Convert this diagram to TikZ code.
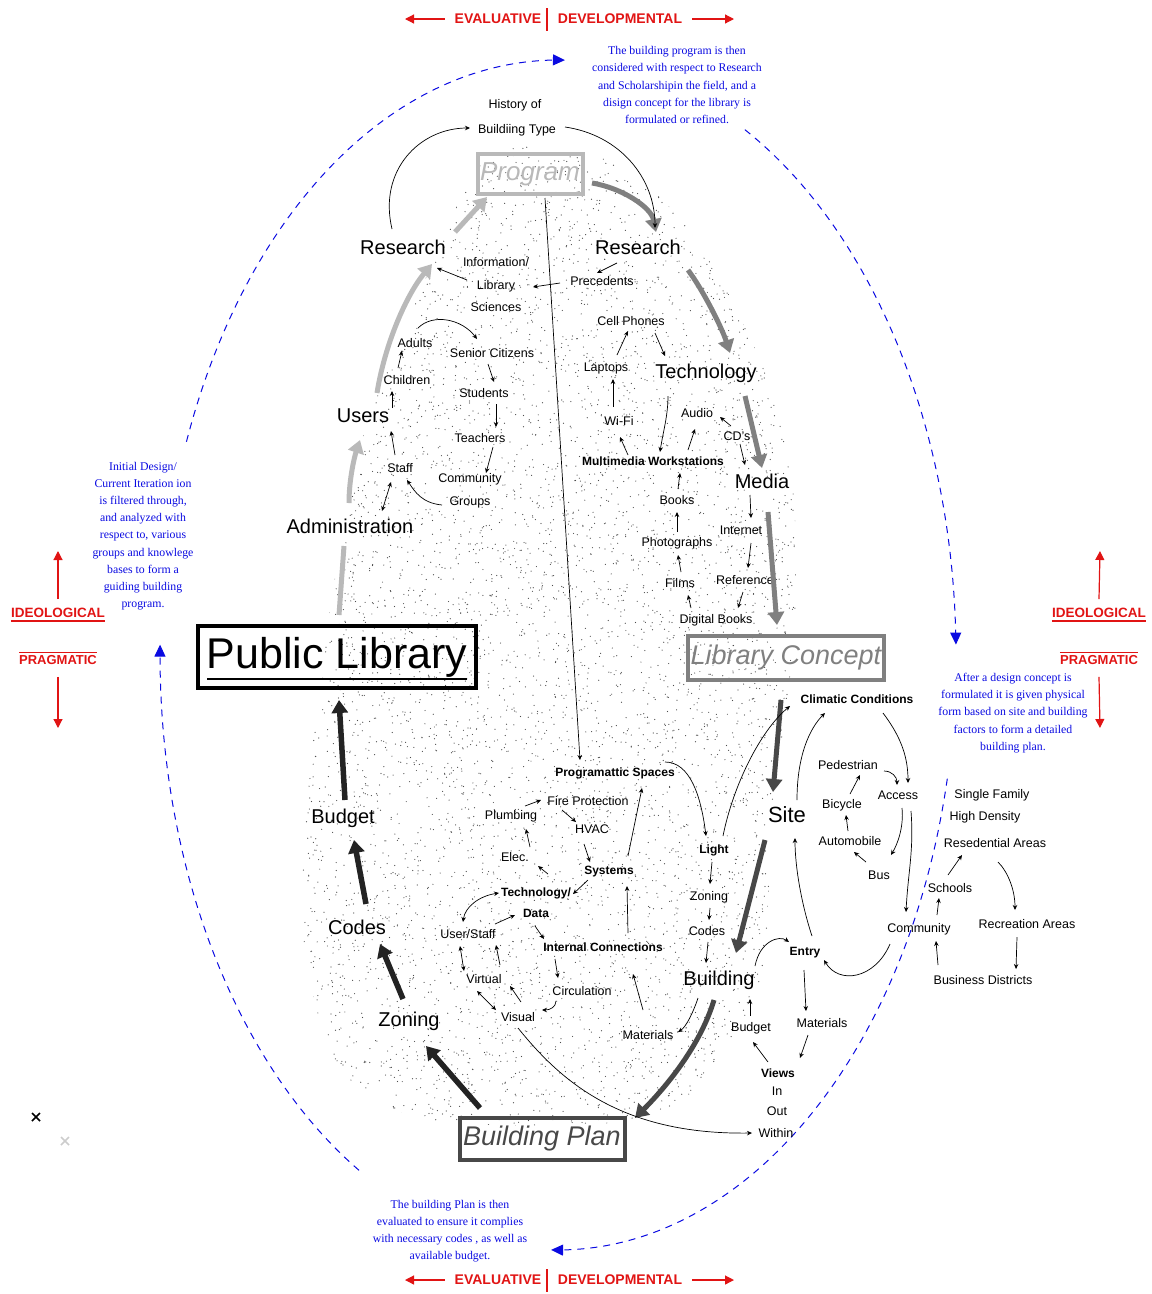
\documentclass[tikz,border=0pt]{standalone}
\usepackage{fontspec}
\setmainfont{Liberation Sans}
\newfontfamily\bluefont{Liberation Serif}
\usetikzlibrary{arrows.meta,calc}
\definecolor{bluetx}{RGB}{10,10,225}
\definecolor{redtx}{RGB}{225,20,20}
\definecolor{gA}{RGB}{185,185,185}
\definecolor{gB}{RGB}{128,128,128}
\definecolor{gC}{RGB}{72,72,72}
\definecolor{gD}{RGB}{35,35,35}
\begin{document}
\begin{tikzpicture}[x=1pt,y=-1pt,
 lab/.style={font=\fontsize{12.5}{15}\selectfont, inner sep=1pt, align=center},
 labb/.style={font=\bfseries\fontsize{12}{15}\selectfont, inner sep=1pt, align=center},
 bigl/.style={font=\fontsize{20}{24}\selectfont, inner sep=1pt},
 redl/.style={font=\bfseries\fontsize{14}{16}\selectfont, text=redtx, inner sep=0pt},
 bluet/.style={font=\bluefont\fontsize{11.8}{17.2}\selectfont, text=bluetx, align=center, inner sep=0pt},
 ar/.style={-{Stealth[length=5pt,width=4.5pt]}, line width=0.7pt},
 dar/.style={{Stealth[length=5pt,width=4.5pt]}-{Stealth[length=5pt,width=4.5pt]}, line width=0.7pt},
 redar/.style={draw=redtx, line width=1.2pt, -{Triangle[length=9pt,width=9pt]}},
 redline/.style={draw=redtx, line width=1.2pt},
 bdash/.style={draw=bluetx, line width=1pt, dash pattern=on 7pt off 6pt, -{Triangle[length=12pt,width=11pt]}},
 bA/.style={draw=gA, line width=5pt, -{Triangle[length=13pt,width=16pt]}},
 bB/.style={draw=gB, line width=5pt, -{Triangle[length=13pt,width=16pt]}},
 bC/.style={draw=gC, line width=5pt, -{Triangle[length=13pt,width=16pt]}},
 bD/.style={draw=gD, line width=5.5pt, -{Triangle[length=13pt,width=16pt]}},
 conbox/.style={line width=4pt, inner sep=0pt, font=\itshape\fontsize{27}{30}\selectfont}
]
\useasboundingbox (0,0) rectangle (1152,1294);

% ---------- stippled region ----------
\begin{scope}
\clip plot[smooth cycle] coordinates {(530,146) (625,168) (700,245) (762,365) (792,480) (795,640) (772,815) (762,975) (705,1075) (640,1120) (430,1120) (335,1060) (300,900) (318,700) (338,560) (368,420) (438,250) (478,168)};
\pgfmathsetseed{12}
\foreach \i in {1,...,7000}{\fill[black!70] ({290+510*rnd},{140+990*rnd}) circle (0.6);}
\end{scope}

% ---------- blue dashed cycle ----------
\draw[bdash] plot[domain=159:89,samples=70,smooth] ({558+398*cos(\x)},{655-595*sin(\x)});
\draw[bdash] plot[domain=62:1,samples=70,smooth] ({558+398*cos(\x)},{655-595*sin(\x)});
\draw[bdash] plot[domain=-12:-91,samples=70,smooth] ({558+398*cos(\x)},{655-595*sin(\x)});
\draw[bdash] plot[domain=240:179,samples=70,smooth] ({558+398*cos(\x)},{655-595*sin(\x)});

% ---------- header / footer ----------
\node[redl] (evalT) at (498,19) {EVALUATIVE};
\node[redl] (devT) at (620,19) {DEVELOPMENTAL};
\draw[redline] (547,8) -- (547,31);
\coordinate (elT) at (405,19);
\coordinate (erT) at (734,19);
\draw[redar] ([xshift=-10pt]evalT.west) -- (elT);
\draw[redar] ([xshift=10pt]devT.east) -- (erT);

\node[redl] (evalB) at (498,1280) {EVALUATIVE};
\node[redl] (devB) at (620,1280) {DEVELOPMENTAL};
\draw[redline] (547,1269) -- (547,1292);
\coordinate (elB) at (405,1280);
\coordinate (erB) at (734,1280);
\draw[redar] ([xshift=-10pt]evalB.west) -- (elB);
\draw[redar] ([xshift=10pt]devB.east) -- (erB);

% ---------- side labels ----------
\node[redl, font=\bfseries\fontsize{13.5}{16}\selectfont] (ideoL) at (58,613) {IDEOLOGICAL};
\node[redl, font=\bfseries\fontsize{13}{16}\selectfont] (pragL) at (58,660) {PRAGMATIC};
\draw[redline] ([yshift=-3pt]ideoL.south west) -- ([yshift=-3pt]ideoL.south east);
\draw[redline] ([yshift=3pt]pragL.north west) -- ([yshift=3pt]pragL.north east);
\coordinate (upL) at (58,551);
\coordinate (dnL) at (58,728);
\draw[redar] ([yshift=9pt]ideoL.north) -- (upL);
\draw[redar] ([yshift=-12pt]pragL.south) -- (dnL);

\node[redl, font=\bfseries\fontsize{13.5}{16}\selectfont] (ideoR) at (1099,613) {IDEOLOGICAL};
\node[redl, font=\bfseries\fontsize{13}{16}\selectfont] (pragR) at (1099,660) {PRAGMATIC};
\draw[redline] ([yshift=-3pt]ideoR.south west) -- ([yshift=-3pt]ideoR.south east);
\draw[redline] ([yshift=3pt]pragR.north west) -- ([yshift=3pt]pragR.north east);
\coordinate (upR) at (1100,551);
\coordinate (dnR) at (1100,728);
\draw[redar] ([yshift=9pt]ideoR.north) -- (upR);
\draw[redar] ([yshift=-12pt]pragR.south) -- (dnR);

% ---------- blue texts ----------
\node[bluet] (bTR) at (677,85) {The building program is then\\considered with respect to Research\\and Scholarshipin the field, and a\\disign concept for the library is\\formulated or refined.};
\node[bluet] (bL) at (143,536) {Initial Design/\\Current Iteration ion\\is filtered through,\\and analyzed with\\respect to, various\\groups and knowlege\\bases to form a\\guiding building\\program.};
\node[bluet] (bR) at (1013,713) {After a design concept is\\formulated it is given physical\\form based on site and building\\factors to form a detailed\\building plan.};
\node[bluet] (bB) at (450,1231) {The building Plan is then\\evaluated to ensure it complies\\with necessary codes , as well as\\available budget.};

% ---------- concept boxes ----------
\node[draw=black, line width=4pt, minimum width=278pt, minimum height=62pt, inner sep=0pt, font=\fontsize{43}{48}\selectfont] (pl) at (337,657) {Public Library};
\draw[line width=1.5pt] ($(pl)+(-130,22)$) -- ($(pl)+(130,22)$);
\node[conbox, draw=gA, text=gA, minimum width=105pt, minimum height=40pt, font=\itshape\fontsize{26}{30}\selectfont] (prog) at (530,174) {Program};
\node[conbox, draw=gB, text=gB, minimum width=196pt, minimum height=44pt] (lc) at (786,658) {Library Concept};
\node[conbox, draw=gC, text=gC, minimum width=165pt, minimum height=42pt] (bp) at (542,1139) {Building Plan};

% ---------- big labels ----------
\node[bigl] (resL) at (403,247) {Research};
\node[bigl] (resR) at (638,247) {Research};
\node[bigl] (users) at (363,416) {Users};
\node[bigl] (admin) at (350,526) {Administration};
\node[bigl] (tech) at (706,373) {Technology};
\node[bigl] (media) at (762,481) {Media};
\node[bigl, font=\fontsize{22}{26}\selectfont] (site) at (787,815) {Site};
\node[bigl] (bldg) at (719,980) {Building};
\node[bigl] (budget) at (343,818) {Budget};
\node[bigl] (codes) at (357,927) {Codes};
\node[bigl] (zoning) at (409,1021) {Zoning};

% ---------- small labels ----------
\node[lab] (hist1) at (515,105) {History of};
\node[lab] (hist2) at (517,130) {Buildiing Type};
\node[lab, font=\fontsize{12.5}{22.5}\selectfont] (info) at (496,285) {Information/\\Library\\Sciences};
\node[lab] (prec) at (602,281) {Precedents};
\node[lab] (cell) at (631,321) {Cell Phones};
\node[lab] (lapt) at (606,368) {Laptops};
\node[lab] (wifi) at (619,421) {Wi-Fi};
\node[lab] (audio) at (697,413) {Audio};
\node[lab] (cds) at (737,436) {CD's};
\node[labb] (mmw) at (653,461) {Multimedia Workstations};
\node[lab] (books) at (677,500) {Books};
\node[lab] (internet) at (741,530) {Internet};
\node[lab] (photo) at (677,543) {Photographs};
\node[lab] (films) at (680,583) {Films};
\node[lab] (ref) at (745,580) {Reference};
\node[lab] (digb) at (716,620) {Digital Books};

\node[lab] (adults) at (415,343) {Adults};
\node[lab] (senior) at (492,353) {Senior Citizens};
\node[lab] (children) at (407,380) {Children};
\node[lab] (students) at (484,393) {Students};
\node[lab] (teachers) at (480,438) {Teachers};
\node[lab] (staff) at (400,468) {Staff};
\node[lab, font=\fontsize{12.5}{23}\selectfont] (comm) at (470,491) {Community\\Groups};

\node[labb] (progsp) at (615,773) {Programattic Spaces};
\node[lab] (fire) at (588,801) {Fire Protection};
\node[lab] (plumb) at (511,816) {Plumbing};
\node[lab] (hvac) at (592,829) {HVAC};
\node[lab] (elec) at (515,857) {Elec.};
\node[labb] (sys) at (609,872) {Systems};
\node[labb, font=\bfseries\fontsize{12}{21}\selectfont] (techd) at (536,903) {Technology/\\Data};
\node[lab] (userst) at (468,934) {User/Staff};
\node[labb] (intc) at (603,947) {Internal Connections};
\node[lab] (virtual) at (484,979) {Virtual};
\node[lab] (circ) at (582,991) {Circulation};
\node[lab] (visual) at (518,1017) {Visual};
\node[lab] (matC) at (648,1035) {Materials};
\node[labb] (light) at (714,850) {Light};
\node[lab] (zon2) at (709,897) {Zoning};
\node[lab] (codes2) at (707,931) {Codes};

\node[labb] (climatic) at (857,699) {Climatic Conditions};
\node[lab] (ped) at (848,765) {Pedestrian};
\node[lab] (access) at (898,795) {Access};
\node[lab] (bicycle) at (842,805) {Bicycle};
\node[lab] (auto) at (850,841) {Automobile};
\node[lab] (bus) at (879,875) {Bus};
\node[lab] (single) at (992,795) {Single Family};
\node[lab] (highd) at (985,817) {High Density};
\node[lab] (resA) at (995,843) {Resedential Areas};
\node[lab] (schools) at (950,888) {Schools};
\node[lab] (recA) at (1027,924) {Recreation Areas};
\node[lab] (commS) at (919,929) {Community};
\node[labb] (entry) at (805,953) {Entry};
\node[lab] (busd) at (983,980) {Business Districts};
\node[lab] (budg2) at (751,1028) {Budget};
\node[lab] (mat2) at (822,1023) {Materials};
\node[labb] (views) at (778,1073) {Views};
\node[lab] (inn) at (777,1091) {In};
\node[lab] (outt) at (777,1111) {Out};
\node[lab] (within) at (776,1133) {Within};

% ---------- big arrows ----------
\draw[draw=gA, line width=5pt] ($(pl)+(2,-42)$) -- ($(admin)+(-6,20)$);
\draw[bA] ($(admin)+(-1,-23)$) .. controls +(0,-25) and +(-5,15) .. ($(users)+(-3,24)$);
\draw[bA] ($(users)+(14,-23)$) .. controls +(8,-50) and +(-25,30) .. ($(resL)+(29,17)$);
\draw[bA] ($(resL)+(52,-15)$) -- ($(prog)+(-43,23)$);
\draw[bB] ($(prog)+(62,9)$) .. controls +(30,5) and +(-5,-25) .. ($(resR)+(18,-15)$);
\draw[bB] ($(resR)+(50,23)$) .. controls +(15,20) and +(-8,-25) .. ($(tech)+(24,-20)$);
\draw[bB] ($(tech)+(39,23)$) -- ($(media)+(0,-13)$);
\draw[bB] ($(media)+(6,31)$) -- ($(lc)+(-9,-33)$);
\draw[bC] ($(lc)+(-5,42)$) -- ($(site)+(-14,-23)$);
\draw[bC] ($(site)+(-22,25)$) -- ($(bldg)+(17,-27)$);
\draw[bC] ($(bldg)+(-5,20)$) .. controls +(-15,50) and +(25,-25) .. ($(bp)+(93,-21)$);
\draw[bD] ($(bp)+(-62,-31)$) -- ($(zoning)+(17,25)$);
\draw[bD] ($(zoning)+(-6,-22)$) -- ($(codes)+(23,17)$);
\draw[bD] ($(codes)+(9,-23)$) -- ($(budget)+(11,22)$);
\draw[bD] ($(budget)+(2,-18)$) -- ($(pl)+(2,43)$);

% ---------- thin arrows: program / research ----------
\draw[ar] ($(resL)+(-11,-18)$) .. controls +(-14,-59) and +(-50,0) .. ($(hist2)+(-47,-2)$);
\draw[ar] ($(hist2)+(48,-3)$) .. controls +(55,8) and +(0,-50) .. ($(resR)+(17,-19)$);
\draw[ar] ($(info)+(-29,-5)$) -- ($(resL)+(34,21)$);
\draw[ar] ($(resR)+(-21,16)$) -- ($(prec)+(-5,-8)$);
\draw[ar] ($(prec)+(-42,2)$) -- ($(info)+(37,2)$);
\draw[ar] ($(prog)+(15,24)$) -- ($(progsp)+(-35,-13)$);

% ---------- technology / media ----------
\draw[ar] ($(lapt)+(11,-13)$) -- ($(cell)+(-3,10)$);
\draw[ar] ($(cell)+(24,12)$) -- ($(tech)+(-41,-17)$);
\draw[ar] ($(wifi)+(-6,-14)$) -- ($(lapt)+(7,11)$);
\draw[ar] ($(tech)+(-38,23)$) .. controls +(0,20) and +(3,-20) .. ($(mmw)+(7,-9)$);
\draw[ar] ($(mmw)+(-25,-6)$) -- ($(wifi)+(1,16)$);
\draw[ar] ($(mmw)+(35,-11)$) -- ($(audio)+(-2,16)$);
\draw[ar] ($(cds)+(-6,-10)$) -- ($(audio)+(23,4)$);
\draw[ar] ($(cds)+(3,8)$) -- ($(media)+(-17,-16)$);
\draw[ar] ($(media)+(-12,14)$) -- ($(internet)+(10,-12)$);
\draw[ar] ($(internet)+(10,13)$) -- ($(ref)+(3,-12)$);
\draw[ar] ($(ref)+(-2,12)$) -- ($(digb)+(22,-12)$);
\draw[ar] ($(digb)+(-25,-12)$) -- ($(films)+(8,12)$);
\draw[ar] ($(films)+(1,-11)$) -- ($(photo)+(1,12)$);
\draw[ar] ($(photo)+(0,-11)$) -- ($(books)+(0,12)$);
\draw[ar] ($(books)+(1,-11)$) -- ($(mmw)+(27,12)$);

% ---------- users ----------
\draw[ar] ($(adults)+(3,-15)$) .. controls +(15,-15) and +(-15,-20) .. ($(senior)+(-15,-14)$);
\draw[ar] ($(senior)+(-4,11)$) -- ($(students)+(10,-11)$);
\draw[ar] ($(students)+(12,11)$) -- ($(teachers)+(16,-11)$);
\draw[ar] ($(teachers)+(13,9)$) -- ($(comm)+(16,-18)$);
\draw[ar] ($(comm)+(-28,14)$) .. controls +(-20,-2) and +(8,12) .. ($(staff)+(7,12)$);
\draw[ar] ($(staff)+(-5,-13)$) -- ($(users)+(28,15)$);
\draw[ar] ($(users)+(29,-8)$) -- ($(children)+(-15,11)$);
\draw[ar] ($(children)+(-9,-12)$) -- ($(adults)+(-13,8)$);
\draw[dar] ($(staff)+(-9,14)$) -- ($(admin)+(32,-15)$);

% ---------- building internals ----------
\draw[ar] ($(progsp)+(50,-11)$) .. controls +(25,0) and +(-5,-40) .. ($(light)+(-8,-14)$);
\draw[ar] ($(plumb)+(14,-10)$) -- ($(fire)+(-47,-1)$);
\draw[ar] ($(fire)+(-26,9)$) -- ($(hvac)+(-16,-7)$);
\draw[ar] ($(hvac)+(-8,15)$) -- ($(sys)+(-19,-10)$);
\draw[ar] ($(sys)+(19,-16)$) -- ($(progsp)+(27,15)$);
\draw[ar] ($(intc)+(25,-14)$) -- ($(sys)+(18,14)$);
\draw[ar] ($(sys)+(-21,8)$) -- ($(techd)+(37,-9)$);
\draw[ar] ($(techd)+(12,-29)$) -- ($(elec)+(23,9)$);
\draw[ar] ($(elec)+(15,-10)$) -- ($(plumb)+(15,13)$);
\draw[dar] ($(techd)+(-37,-10)$) .. controls +(-20,3) and +(2,-15) .. ($(userst)+(-5,-12)$);
\draw[ar] ($(userst)+(27,-10)$) -- ($(techd)+(-21,12)$);
\draw[ar] ($(techd)+(-1,23)$) -- ($(intc)+(-59,-8)$);
\draw[ar] ($(intc)+(-48,12)$) -- ($(circ)+(-24,-13)$);
\draw[ar] ($(circ)+(-26,10)$) .. controls +(0,6) and +(8,0) .. ($(visual)+(24,-7)$);
\draw[ar] ($(visual)+(3,-15)$) -- ($(virtual)+(26,7)$);
\draw[dar] ($(virtual)+(-7,12)$) -- ($(visual)+(-22,-7)$);
\draw[dar] ($(userst)+(-8,12)$) -- ($(virtual)+(-20,-8)$);
\draw[ar] ($(virtual)+(16,-14)$) -- ($(userst)+(28,11)$);
\draw[ar] ($(matC)+(-5,-25)$) -- ($(intc)+(30,27)$);
\draw[ar] ($(bldg)+(-21,18)$) .. controls +(-5,15) and +(8,-5) .. ($(matC)+(30,-3)$);
\draw[ar] ($(light)+(-2,12)$) -- ($(zon2)+(1,-13)$);
\draw[ar] ($(zon2)+(1,11)$) -- ($(codes2)+(2,-11)$);
\draw[ar] ($(codes2)+(1,11)$) -- ($(bldg)+(-13,-17)$);
\draw[ar] ($(visual)+(0,11)$) .. controls +(42,52) and +(-132,2) .. ($(within)+(-24,0)$);

% ---------- site ----------
\draw[ar] ($(light)+(9,-14)$) .. controls +(10,-50) and +(-30,25) .. ($(climatic)+(-67,7)$);
\draw[ar] ($(site)+(10,-15)$) .. controls +(0,-45) and +(-15,15) .. ($(climatic)+(-32,14)$);
\draw[ar] ($(climatic)+(26,14)$) .. controls +(15,20) and +(0,-30) .. ($(access)+(10,-12)$);
\draw[ar] ($(ped)+(36,6)$) .. controls +(8,0) and +(0,-8) .. ($(access)+(-1,-10)$);
\draw[ar] ($(bicycle)+(8,-11)$) -- ($(ped)+(12,10)$);
\draw[ar] ($(auto)+(-2,-10)$) -- ($(bicycle)+(4,10)$);
\draw[ar] ($(bus)+(-13,-13)$) -- ($(auto)+(4,11)$);
\draw[ar] ($(access)+(4,13)$) .. controls +(2,20) and +(6,-10) .. ($(bus)+(12,-20)$);
\draw[ar] ($(access)+(13,16)$) .. controls +(3,40) and +(2,-40) .. ($(commS)+(-13,-17)$);
\draw[ar] ($(commS)+(-29,15)$) .. controls +(-15,35) and +(15,25) .. ($(entry)+(19,7)$);
\draw[ar] ($(entry)+(7,-17)$) .. controls +(-10,-30) and +(0,30) .. ($(site)+(8,23)$);
\draw[ar] ($(bldg)+(36,-14)$) .. controls +(5,-25) and +(-10,-7) .. ($(entry)+(-16,-11)$);
\draw[ar] ($(entry)+(-1,17)$) -- ($(mat2)+(-16,-12)$);
\draw[ar] ($(commS)+(18,-14)$) -- ($(schools)+(-11,10)$);
\draw[ar] ($(busd)+(-45,-15)$) -- ($(commS)+(17,12)$);
\draw[ar] ($(schools)+(-2,-13)$) -- ($(resA)+(-33,12)$);
\draw[ar] ($(resA)+(3,19)$) .. controls +(10,10) and +(0,-20) .. ($(recA)+(-12,-14)$);
\draw[ar] ($(recA)+(-10,13)$) -- ($(busd)+(33,-11)$);
\draw[ar] ($(budg2)+(-1,-12)$) -- ($(bldg)+(31,19)$);
\draw[ar] ($(views)+(-10,-11)$) -- ($(budg2)+(2,14)$);
\draw[ar] ($(mat2)+(-14,12)$) -- ($(views)+(22,-15)$);

% ---------- small marks ----------
\draw[line width=1.6pt] (32,1113) -- (40,1121) (32,1121) -- (40,1113);
\draw[line width=1.6pt, black!20] (61,1137) -- (69,1145) (61,1145) -- (69,1137);
\end{tikzpicture}
\end{document}
